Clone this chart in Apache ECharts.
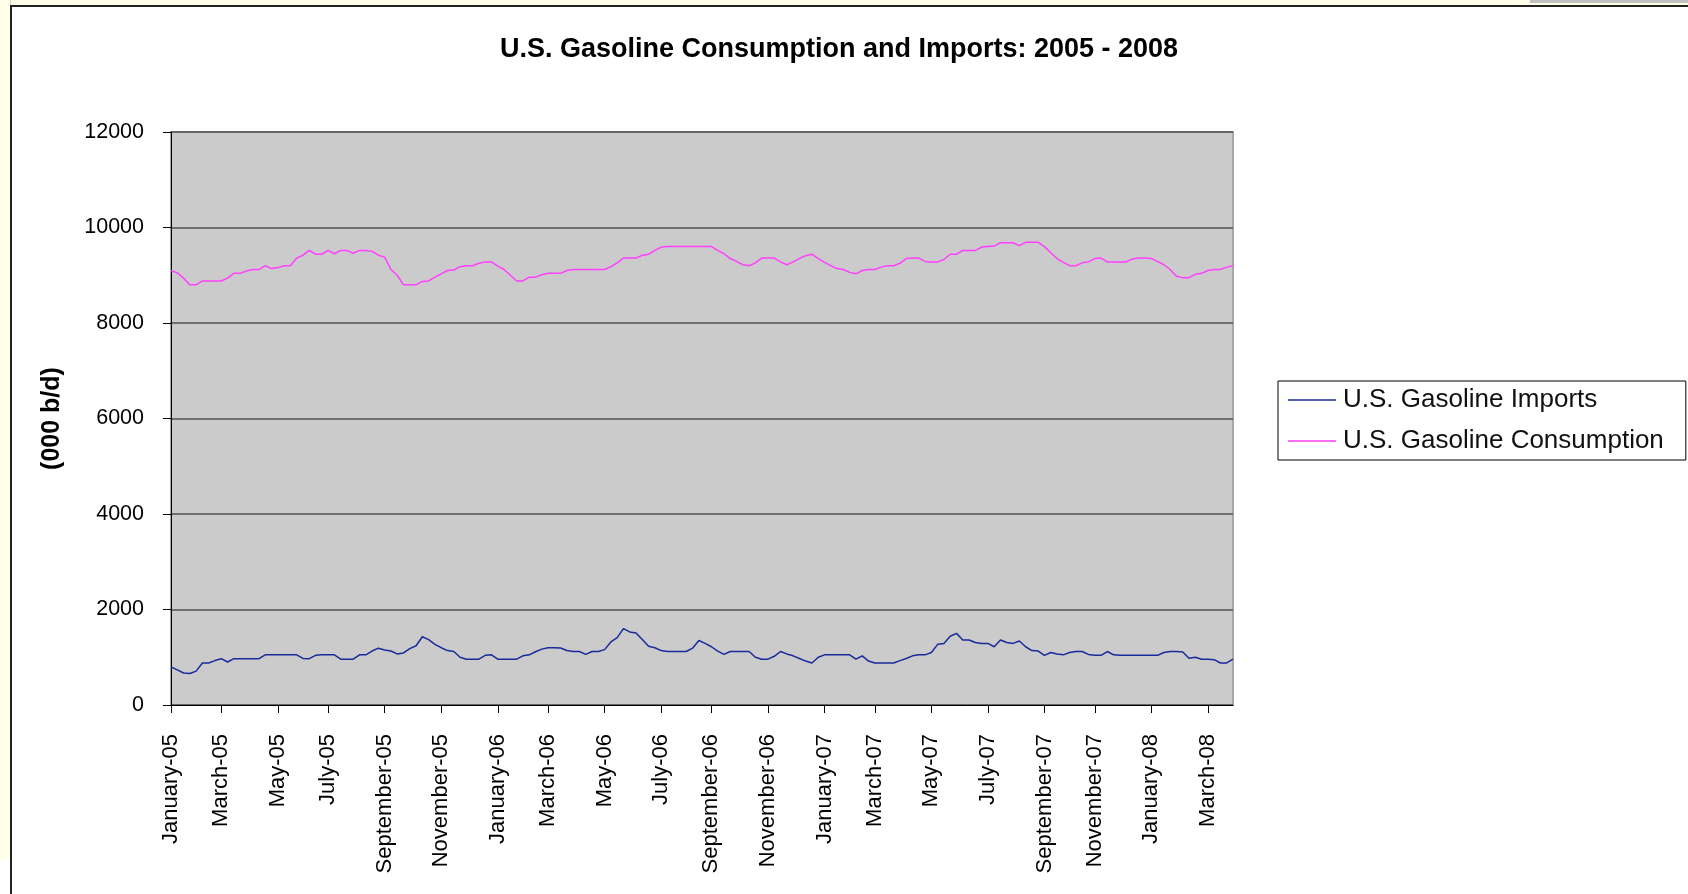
<!DOCTYPE html>
<html>
<head>
<meta charset="utf-8">
<title>U.S. Gasoline Consumption and Imports</title>
<script src="https://cdn.jsdelivr.net/npm/echarts@6/dist/echarts.min.js"></script>
<style>
  html, body { margin: 0; padding: 0; background: #fff; }
  #page { position: relative; width: 1688px; height: 894px; overflow: hidden; }
  .strip-left { position: absolute; left: 0; top: 0; width: 10px; height: 860px; background: #fffee8; border-right: 1px solid #d8d8a8; }
  .strip-top { position: absolute; left: 0; top: 0; width: 1688px; height: 5px; background: #fffee8; }
  .strip-gray { position: absolute; left: 1530px; top: 0; width: 158px; height: 3px; background: #c0c0c0; }
  .frame { position: absolute; left: 10px; top: 5px; width: 1676px; height: 900px; border: 2px solid #222; background: #fff; }
  #main { position: absolute; left: 0; top: 0; width: 1688px; height: 894px; }
</style>
</head>
<body>
<div id="page">
  <div class="strip-top"></div>
  <div class="strip-left"></div>
  <div class="strip-gray"></div>
  <div class="frame"></div>
  <div id="main"></div>
</div>
<script>
// weekly figures, thousand barrels per day, first week ends 7 Jan 2005
const firstWeek = "2005-01-07";

const imports = [
  800, 735, 670, 660, 710, 880, 880, 930, 970, 900,
  970, 970, 970, 970, 970, 1050, 1050, 1050, 1050, 1050,
  1050, 975, 970, 1040, 1050, 1050, 1050, 960, 960, 960,
  1050, 1050, 1130, 1190, 1150, 1130, 1070, 1090, 1180, 1240,
  1430, 1370, 1270, 1200, 1140, 1120, 1000, 960, 960, 960,
  1040, 1050, 960, 960, 960, 960, 1030, 1050, 1115, 1170,
  1200, 1200, 1195, 1140, 1120, 1120, 1060, 1120, 1120, 1160,
  1320, 1410, 1600, 1530, 1510, 1370, 1230, 1200, 1140, 1120,
  1120, 1120, 1120, 1190, 1350, 1290, 1220, 1130, 1060, 1120,
  1120, 1120, 1120, 1000, 960, 960, 1020, 1120, 1070, 1030,
  975, 920, 880, 1000, 1050, 1050, 1050, 1050, 1050, 960,
  1030, 920, 880, 880, 880, 880, 930, 975, 1030, 1050,
  1050, 1100, 1270, 1290, 1440, 1500, 1360, 1360, 1310, 1290,
  1290, 1220, 1360, 1310, 1290, 1340, 1220, 1140, 1130, 1040,
  1100, 1070, 1050, 1100, 1120, 1120, 1060, 1040, 1040, 1120,
  1050, 1040, 1040, 1040, 1040, 1040, 1040, 1040, 1100, 1120,
  1120, 1110, 980, 1000, 960, 960, 950, 880, 880, 960
];

const consumption = [
  9100, 9050, 8940, 8800, 8800, 8880, 8880, 8880, 8880, 8940,
  9040, 9040, 9090, 9120, 9120, 9200, 9140, 9160, 9200, 9200,
  9360, 9420, 9520, 9440, 9440, 9520, 9450, 9520, 9520, 9460,
  9520, 9520, 9500, 9420, 9380, 9120, 9000, 8800, 8800, 8800,
  8870, 8880, 8960, 9030, 9100, 9110, 9180, 9200, 9200, 9250,
  9280, 9280, 9190, 9120, 9000, 8880, 8880, 8960, 8960, 9010,
  9040, 9040, 9040, 9100, 9120, 9120, 9120, 9120, 9120, 9120,
  9180, 9260, 9360, 9360, 9360, 9420, 9440, 9520, 9590, 9600,
  9600, 9600, 9600, 9600, 9600, 9600, 9600, 9520, 9450, 9350,
  9290, 9220, 9200, 9260, 9360, 9360, 9360, 9280, 9220, 9280,
  9350, 9410, 9440, 9350, 9270, 9200, 9140, 9120, 9060, 9030,
  9100, 9120, 9120, 9170, 9200, 9200, 9250, 9350, 9360, 9360,
  9290, 9280, 9280, 9330, 9440, 9440, 9520, 9520, 9520, 9590,
  9600, 9610, 9680, 9680, 9680, 9620, 9690, 9690, 9690, 9600,
  9470, 9350, 9270, 9200, 9200, 9260, 9280, 9350, 9360, 9280,
  9280, 9280, 9280, 9340, 9360, 9360, 9350, 9290, 9220, 9120,
  8980, 8950, 8950, 9020, 9040, 9100, 9120, 9120, 9170, 9200
];

const monthNames = ["January", "February", "March", "April", "May", "June",
  "July", "August", "September", "October", "November", "December"];

const yTicks = [0, 2000, 4000, 6000, 8000, 10000, 12000];

// one category per week
const weeks = [];
let d = new Date(firstWeek + "T00:00:00Z");
for (let i = 0; i < consumption.length; i++) {
  weeks.push(new Date(d.getTime()));
  d.setUTCDate(d.getUTCDate() + 7);
}
const categories = weeks.map(w =>
  monthNames[w.getUTCMonth()] + "-" + String(w.getUTCFullYear()).slice(2));

// label the first week of every other month (Jan, Mar, May...)
const showTick = (idx) => {
  const w = weeks[idx];
  return w.getUTCMonth() % 2 === 0 && w.getUTCDate() <= 7;
};

const chart = echarts.init(document.getElementById("main"), null, { renderer: "canvas" });

chart.setOption({
  backgroundColor: "transparent",
  animation: false,
  textStyle: { fontFamily: "Liberation Sans, Arial, sans-serif" },
  title: {
    text: "U.S. Gasoline Consumption and Imports: 2005 - 2008",
    left: 834,
    top: 31,
    textAlign: "center",
    textStyle: { fontSize: 27, fontWeight: "bold", color: "#000" }
  },
  legend: {
    orient: "vertical",
    left: 1278,
    top: 381,
    padding: [6, 22, 6, 10],
    itemGap: 15,
    itemWidth: 48,
    itemHeight: 1.5,
    icon: "rect",
    borderColor: "#000",
    borderWidth: 1,
    borderRadius: 0,
    backgroundColor: "#fff",
    textStyle: { fontSize: 26, color: "#111", padding: [0, 0, 0, 2] },
    data: ["U.S. Gasoline Imports", "U.S. Gasoline Consumption"]
  },
  grid: {
    left: 171,
    top: 132,
    right: 455,
    bottom: 189,
    show: true,
    backgroundColor: "#cbcbcb",
    borderColor: "#a8a8a8",
    borderWidth: 2
  },
  xAxis: {
    type: "category",
    data: categories,
    boundaryGap: false,
    axisLine: { lineStyle: { color: "#000", width: 1 } },
    axisTick: {
      interval: showTick,
      length: 8,
      lineStyle: { color: "#000" }
    },
    axisLabel: {
      interval: showTick,
      rotate: 90,
      margin: 29,
      fontSize: 22,
      color: "#000"
    },
    splitLine: { show: false }
  },
  yAxis: {
    type: "value",
    min: yTicks[0],
    max: yTicks[yTicks.length - 1],
    interval: 2000,
    name: "(000 b/d)",
    nameLocation: "middle",
    nameRotate: 90,
    nameGap: 106,
    nameTextStyle: { fontSize: 25, fontWeight: "bold", color: "#000" },
    axisLine: { show: true, lineStyle: { color: "#000", width: 1 } },
    axisTick: { show: true, length: 8, lineStyle: { color: "#000" } },
    axisLabel: {
      fontSize: 21.5,
      color: "#000",
      margin: 27,
      formatter: (v) => String(v)
    },
    splitLine: { lineStyle: { color: "#505050", width: 1.5 } }
  },
  series: [
    {
      name: "U.S. Gasoline Imports",
      type: "line",
      data: imports,
      symbol: "none",
      lineStyle: { color: "#1a2a9a", width: 1.5 },
      itemStyle: { color: "#1a2a9a" }
    },
    {
      name: "U.S. Gasoline Consumption",
      type: "line",
      data: consumption,
      symbol: "none",
      lineStyle: { color: "#ff40ff", width: 1.5 },
      itemStyle: { color: "#ff40ff" }
    }
  ]
});
</script>
</body>
</html>
